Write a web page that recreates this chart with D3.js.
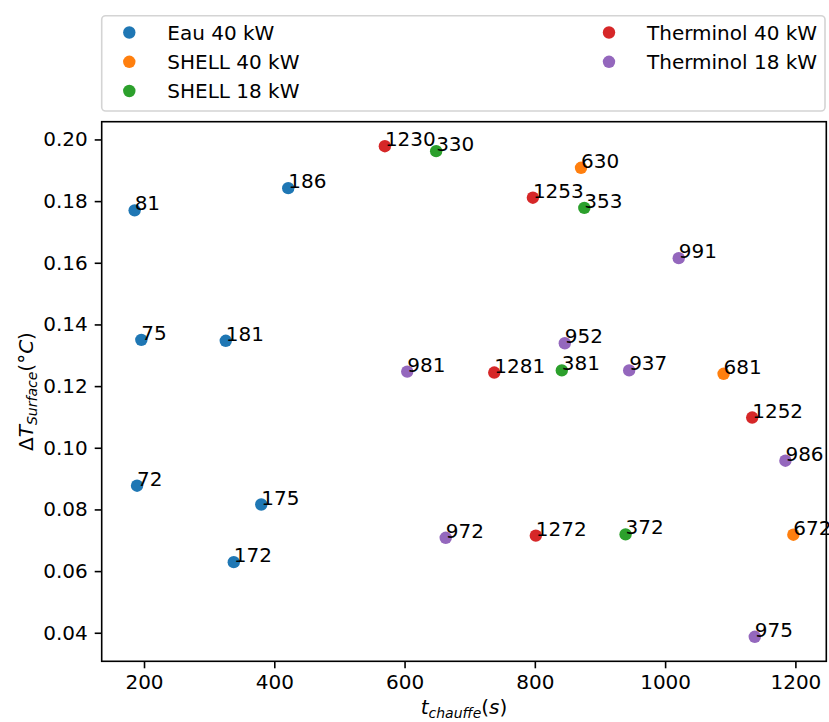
<!DOCTYPE html>
<html>
<head>
<meta charset="utf-8">
<script src="https://cdn.jsdelivr.net/npm/d3@7"></script>
<style>
  html, body { margin: 0; padding: 0; background: #fff; }
  svg { display: block; }
  text { font-family: "DejaVu Sans", sans-serif; }
</style>
</head>
<body>
<div id="chart"></div>
<script>
// ---- data ----
const seriesNames = ["Eau 40 kW", "SHELL 40 kW", "SHELL 18 kW", "Therminol 40 kW", "Therminol 18 kW"];
const seriesColors = ["#1f77b4", "#ff7f0e", "#2ca02c", "#d62728", "#9467bd"];

const eau40 = [
  { t: 185.6, dT: 0.1770, label: "81" },
  { t: 195.9, dT: 0.1350, label: "75" },
  { t: 325.5, dT: 0.1347, label: "181" },
  { t: 421.4, dT: 0.1842, label: "186" },
  { t: 189.3, dT: 0.0877, label: "72" },
  { t: 380.0, dT: 0.0816, label: "175" },
  { t: 337.8, dT: 0.0629, label: "172" }
];
const shell40 = [
  { t: 870.9, dT: 0.1908, label: "630" },
  { t: 1089.8, dT: 0.1240, label: "681" },
  { t: 1196.9, dT: 0.0718, label: "672" }
];
const shell18 = [
  { t: 648.5, dT: 0.1962, label: "330" },
  { t: 876.0, dT: 0.1778, label: "353" },
  { t: 841.4, dT: 0.1251, label: "381" },
  { t: 939.3, dT: 0.0719, label: "372" }
];
const therm40 = [
  { t: 569.8, dT: 0.1978, label: "1230" },
  { t: 797.0, dT: 0.1811, label: "1253" },
  { t: 737.7, dT: 0.1244, label: "1281" },
  { t: 1133.7, dT: 0.1098, label: "1252" },
  { t: 801.5, dT: 0.0715, label: "1272" }
];
const therm18 = [
  { t: 1020.9, dT: 0.1615, label: "991" },
  { t: 846.0, dT: 0.1339, label: "952" },
  { t: 604.1, dT: 0.1247, label: "981" },
  { t: 944.8, dT: 0.1251, label: "937" },
  { t: 1184.7, dT: 0.0958, label: "986" },
  { t: 663.2, dT: 0.0708, label: "972" },
  { t: 1137.7, dT: 0.0387, label: "975" }
];
const seriesData = [eau40, shell40, shell18, therm40, therm18];

const xTicks = [200, 400, 600, 800, 1000, 1200];
const yTicks = [0.04, 0.06, 0.08, 0.10, 0.12, 0.14, 0.16, 0.18, 0.20];

// ---- layout ----
const W = 829, H = 722;
const plot = { left: 101.7, right: 826.3, top: 121.7, bottom: 661.3 };
const FONT = 20;

const svg = d3.select("#chart").append("svg")
  .attr("width", W).attr("height", H);

// matplotlib-style 5% margins
const allT = seriesData.flat().map(d => d.t);
const allY = seriesData.flat().map(d => d.dT);
const tMin = d3.min(allT), tMax = d3.max(allT);
const yMin = d3.min(allY), yMax = d3.max(allY);
const tPad = (tMax - tMin) * 0.05, yPad = (yMax - yMin) * 0.05;

const x = d3.scaleLinear().domain([tMin - tPad, tMax + tPad]).range([plot.left, plot.right]);
const y = d3.scaleLinear().domain([yMin - yPad, yMax + yPad]).range([plot.bottom, plot.top]);

// axes
const xAxis = svg.append("g")
  .attr("transform", `translate(0,${plot.bottom})`)
  .call(d3.axisBottom(x).tickValues(xTicks).tickFormat(d3.format("d")).tickSize(7).tickPadding(7).tickSizeOuter(0));
const yAxis = svg.append("g")
  .attr("transform", `translate(${plot.left},0)`)
  .call(d3.axisLeft(y).tickValues(yTicks).tickFormat(d3.format(".2f")).tickSize(7).tickPadding(7).tickSizeOuter(0));

[xAxis, yAxis].forEach(g => {
  g.select(".domain").remove();
  g.selectAll(".tick line").attr("stroke", "#000").attr("stroke-width", 1.6);
  g.selectAll(".tick text").attr("fill", "#000").style("font-size", FONT + "px")
    .style("font-family", "'DejaVu Sans', sans-serif");
});

// frame
svg.append("rect")
  .attr("x", plot.left).attr("y", plot.top)
  .attr("width", plot.right - plot.left).attr("height", plot.bottom - plot.top)
  .attr("fill", "none").attr("stroke", "#000").attr("stroke-width", 1.6);

// points + labels
const gPts = svg.append("g");
seriesData.forEach((arr, i) => {
  gPts.selectAll(null).data(arr).enter().append("circle")
    .attr("cx", d => x(d.t)).attr("cy", d => y(d.dT))
    .attr("r", 6.2).attr("fill", seriesColors[i]);
});
seriesData.forEach((arr, i) => {
  gPts.selectAll(null).data(arr).enter().append("text")
    .attr("x", d => x(d.t)).attr("y", d => y(d.dT))
    .attr("fill", "#000").style("font-size", FONT + "px")
    .text(d => d.label);
});

// axis labels (mathtext-like)
const xl = svg.append("text")
  .attr("x", (plot.left + plot.right) / 2).attr("y", 714)
  .attr("text-anchor", "middle").style("font-size", FONT + "px");
xl.append("tspan").style("font-style", "italic").text("t");
xl.append("tspan").style("font-style", "italic").style("font-size", "14px").attr("dy", 4).text("chauffe");
xl.append("tspan").attr("dy", -4).text("(");
xl.append("tspan").style("font-style", "italic").text("s");
xl.append("tspan").text(")");

const yl = svg.append("text")
  .attr("transform", `translate(33,${(plot.top + plot.bottom) / 2}) rotate(-90)`)
  .attr("text-anchor", "middle").style("font-size", FONT + "px");
yl.append("tspan").text("Δ");
yl.append("tspan").style("font-style", "italic").text("T");
yl.append("tspan").style("font-style", "italic").style("font-size", "14px").attr("dy", 4).text("Surface");
yl.append("tspan").attr("dy", -4).text("(°");
yl.append("tspan").style("font-style", "italic").text("C");
yl.append("tspan").text(")");

// legend
const leg = svg.append("g");
leg.append("rect")
  .attr("x", 101.7).attr("y", 15.7).attr("width", 825 - 101.7).attr("height", 111 - 15.7)
  .attr("rx", 4).attr("fill", "#fff").attr("fill-opacity", 0.8)
  .attr("stroke", "#d4d4d4").attr("stroke-width", 1.6);
const legPos = [
  { mx: 129.3, tx: 167.3, y: 32.5 },
  { mx: 129.3, tx: 167.3, y: 61.8 },
  { mx: 129.3, tx: 167.3, y: 91 },
  { mx: 609, tx: 647, y: 32.5 },
  { mx: 609, tx: 647, y: 61.8 }
];
seriesNames.forEach((name, i) => {
  const p = legPos[i];
  leg.append("circle").attr("cx", p.mx).attr("cy", p.y).attr("r", 6.2).attr("fill", seriesColors[i]);
  leg.append("text").attr("x", p.tx).attr("y", p.y).attr("dy", "0.36em")
    .style("font-size", FONT + "px").attr("fill", "#000").text(name);
});
</script>
</body>
</html>
